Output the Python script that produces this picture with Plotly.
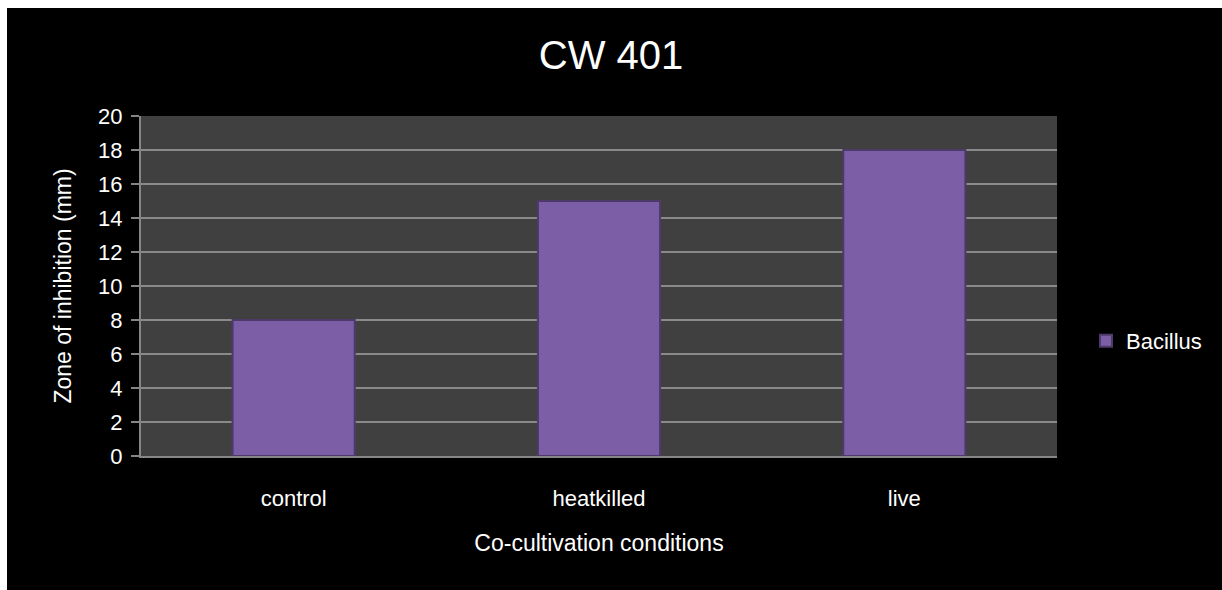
import plotly.graph_objects as go

categories = ["control", "heatkilled", "live"]
bacillus = [8, 15, 18]
y_ticks = [0, 2, 4, 6, 8, 10, 12, 14, 16, 18, 20]

W, H = 1222, 590
L, R, T, B = 141, 165, 116, 134
pw, ph = W - L - R, H - T - B

def px_x(p):
    return (p - L) / pw

def px_y(p):
    return (H - B - p) / ph

FONT = "Liberation Sans"

fig = go.Figure()
fig.add_trace(go.Bar(
    x=categories, y=bacillus, name="Bacillus",
    marker=dict(color="#7c5ea6", line=dict(color="#4d3a6b", width=2)),
    width=0.4,
))

fig.update_layout(
    width=W, height=H,
    margin=dict(l=L, r=R, t=T, b=B),
    paper_bgcolor="black",
    plot_bgcolor="#404040",
    title=dict(text="CW 401", x=0.5, xanchor="center", y=1 - 55 / H, yanchor="middle",
               font=dict(family=FONT, size=40, color="white")),
    font=dict(family=FONT, color="white"),
    showlegend=True,
    legend=dict(x=px_x(1086), xanchor="left", y=px_y(341), yanchor="middle",
                bgcolor="rgba(0,0,0,0)", font=dict(family=FONT, size=22, color="white"),
                itemsizing="constant"),
    bargap=0.6,
    shapes=[
        dict(type="rect", xref="paper", yref="paper", layer="above",
             x0=px_x(0), x1=px_x(W), y0=px_y(8), y1=px_y(0),
             fillcolor="white", line=dict(width=0)),
        dict(type="rect", xref="paper", yref="paper", layer="above",
             x0=px_x(0), x1=px_x(7), y0=px_y(H), y1=px_y(0),
             fillcolor="white", line=dict(width=0)),
    ],
)

fig.update_xaxes(
    showline=True, linecolor="#868686", linewidth=2,
    showgrid=False, ticks="", ticklabelstandoff=22,
    tickfont=dict(family=FONT, size=22, color="white"),
    title=dict(text="Co-cultivation conditions", standoff=24,
               font=dict(family=FONT, size=23, color="white")),
)
fig.update_yaxes(
    range=[0, 20], tickvals=y_ticks,
    showline=True, linecolor="#868686", linewidth=2,
    showgrid=True, gridcolor="#8a8a8a", gridwidth=2,
    ticks="outside", ticklen=8, tickwidth=2, tickcolor="#868686",
    ticklabelstandoff=4,
    tickfont=dict(family=FONT, size=22, color="white"),
    title=dict(text="Zone of inhibition (mm)", standoff=20,
               font=dict(family=FONT, size=23, color="white")),
    zeroline=False,
)

fig.write_html("out.html")
